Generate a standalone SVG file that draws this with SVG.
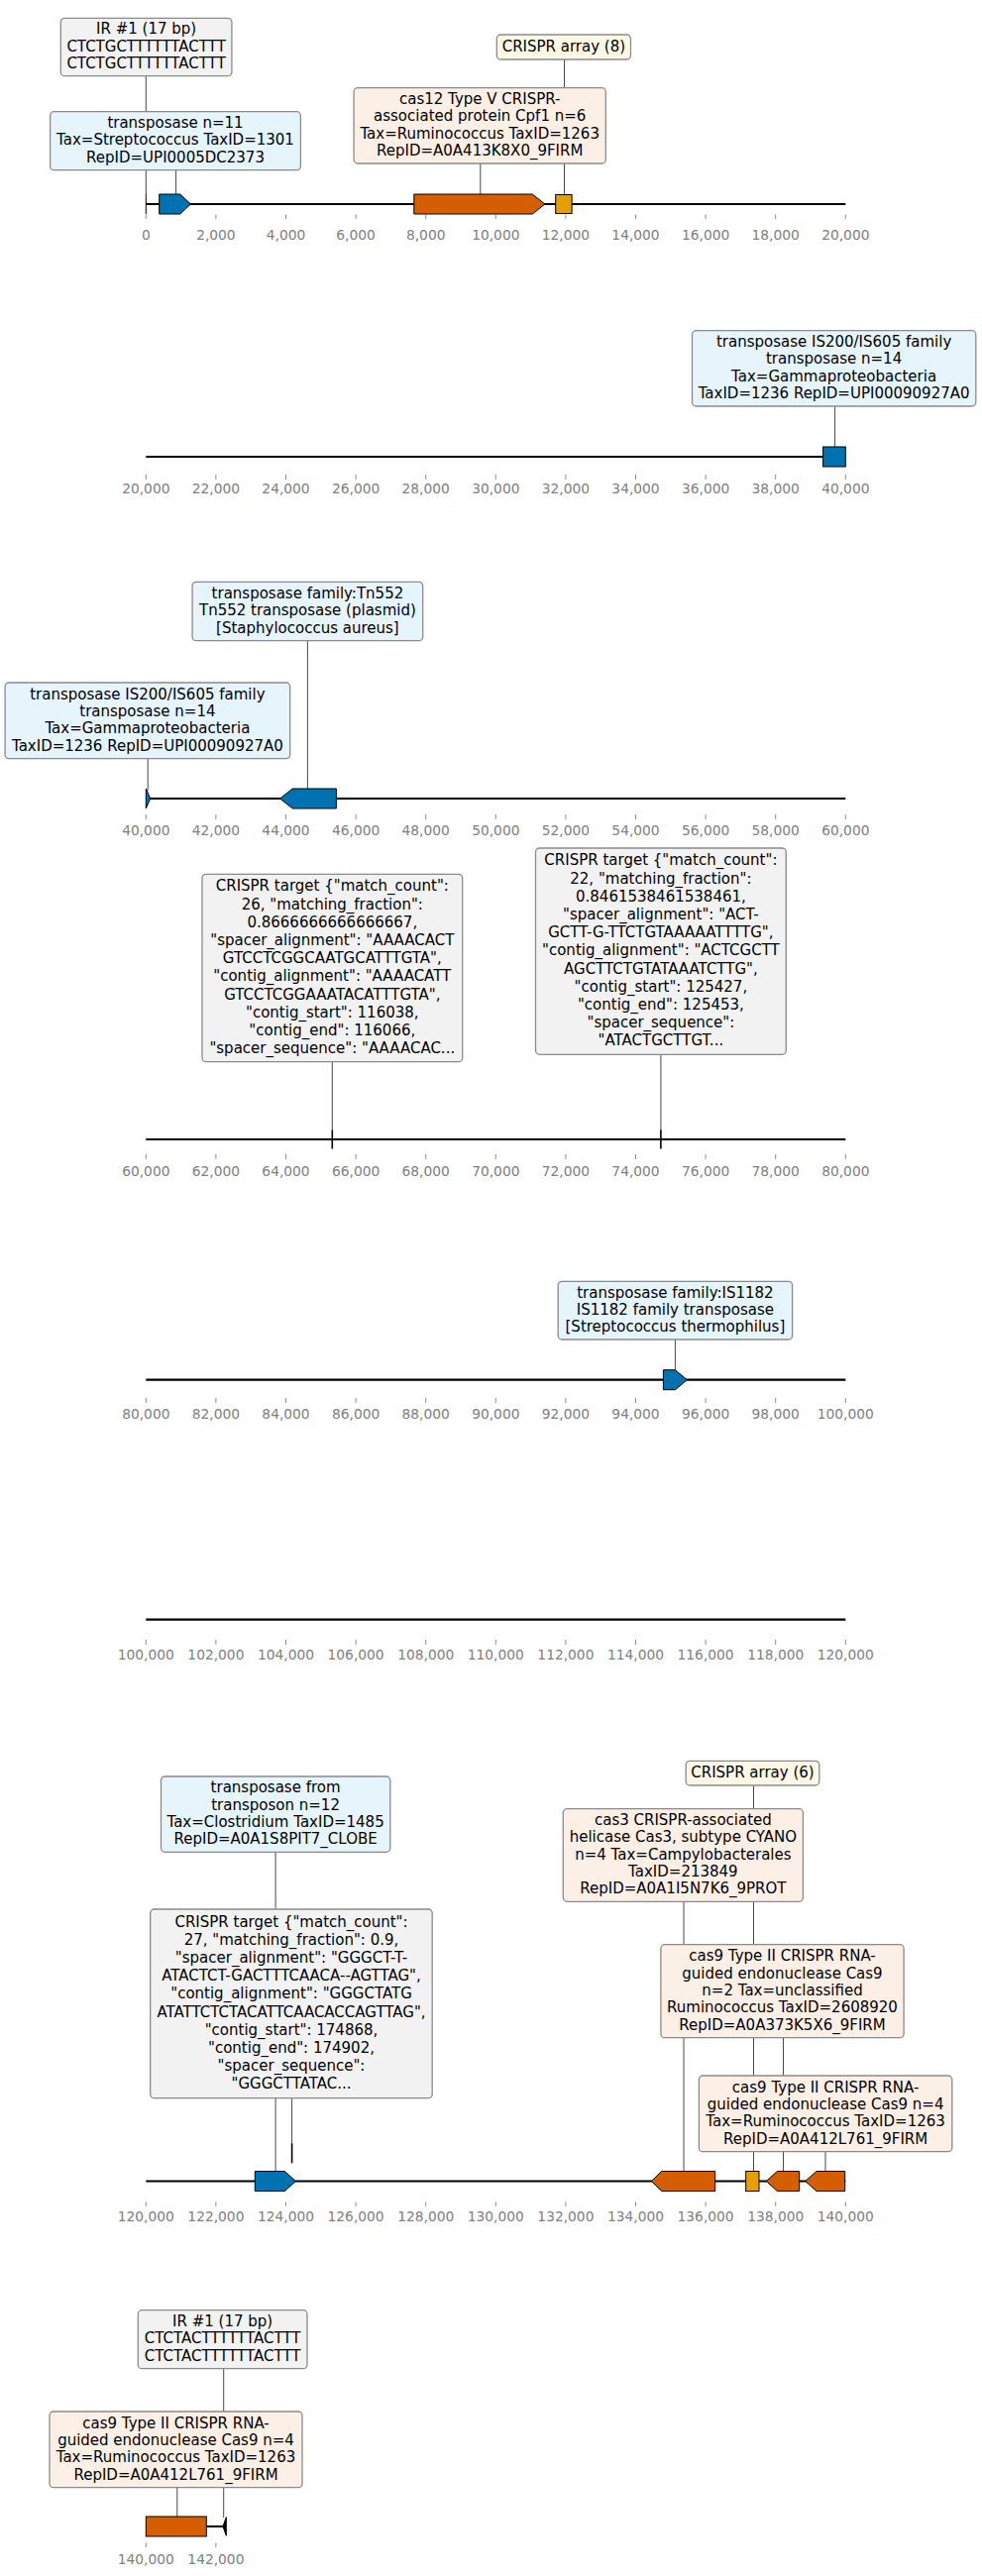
<svg xmlns="http://www.w3.org/2000/svg" width="991" height="2600" viewBox="0 0 991 2600">
<style>
  .bg{fill:#ffffff}
  .track{stroke:#000;stroke-width:2.2;fill:none}
  .tk{stroke:#8c8c8c;stroke-width:1}
  .tl{font-family:"DejaVu Sans",sans-serif;font-size:13.8px;fill:#808080;text-anchor:middle}
  .conn{stroke:#333;stroke-width:0.9;fill:none}
  .box{stroke:#8a8a8a;stroke-width:1.3}
  .bx-gray{fill:#f2f2f2}
  .bx-blue{fill:#e6f4fc}
  .bx-orange{fill:#fcefe6}
  .bx-yellow{fill:#fdf8e6}
  .lbl{font-family:"DejaVu Sans",sans-serif;font-size:15px;fill:#000;text-anchor:middle}
  .g-blue{fill:#0072b2;stroke:#000;stroke-width:1}
  .g-orange{fill:#d55e00;stroke:#000;stroke-width:1}
  .g-yellow{fill:#e69f00;stroke:#000;stroke-width:1}
  .mark{stroke:#000;stroke-width:1.6}
</style>
<rect class="bg" x="0" y="0" width="991" height="2600"/>

<!-- sequence tracks and coordinate axes -->
<g id="axes">
  <line class="track" x1="147.3" y1="206" x2="853.3" y2="206"/>
  <line class="track" x1="147.3" y1="461" x2="853.3" y2="461"/>
  <line class="track" x1="147.3" y1="806" x2="853.3" y2="806"/>
  <line class="track" x1="147.3" y1="1150" x2="853.3" y2="1150"/>
  <line class="track" x1="147.3" y1="1392.7" x2="853.3" y2="1392.7"/>
  <line class="track" x1="147.3" y1="1634.7" x2="853.3" y2="1634.7"/>
  <line class="track" x1="147.3" y1="2201.5" x2="853.3" y2="2201.5"/>
  <line class="track" x1="147.3" y1="2550" x2="228.3" y2="2550"/>

  <!-- 0 - 20,000 -->
  <g>
    <path class="tk" d="M147.3 216.5v4.5M217.9 216.5v4.5M288.5 216.5v4.5M359.1 216.5v4.5M429.7 216.5v4.5M500.3 216.5v4.5M570.9 216.5v4.5M641.5 216.5v4.5M712.1 216.5v4.5M782.7 216.5v4.5M853.3 216.5v4.5"/>
    <text class="tl" x="147.3" y="241.8">0</text>
    <text class="tl" x="217.9" y="241.8">2,000</text>
    <text class="tl" x="288.5" y="241.8">4,000</text>
    <text class="tl" x="359.1" y="241.8">6,000</text>
    <text class="tl" x="429.7" y="241.8">8,000</text>
    <text class="tl" x="500.3" y="241.8">10,000</text>
    <text class="tl" x="570.9" y="241.8">12,000</text>
    <text class="tl" x="641.5" y="241.8">14,000</text>
    <text class="tl" x="712.1" y="241.8">16,000</text>
    <text class="tl" x="782.7" y="241.8">18,000</text>
    <text class="tl" x="853.3" y="241.8">20,000</text>
  </g>
  <!-- 20,000 - 40,000 -->
  <g>
    <path class="tk" d="M147.3 479v5M217.9 479v5M288.5 479v5M359.1 479v5M429.7 479v5M500.3 479v5M570.9 479v5M641.5 479v5M712.1 479v5M782.7 479v5M853.3 479v5"/>
    <text class="tl" x="147.3" y="498">20,000</text>
    <text class="tl" x="217.9" y="498">22,000</text>
    <text class="tl" x="288.5" y="498">24,000</text>
    <text class="tl" x="359.1" y="498">26,000</text>
    <text class="tl" x="429.7" y="498">28,000</text>
    <text class="tl" x="500.3" y="498">30,000</text>
    <text class="tl" x="570.9" y="498">32,000</text>
    <text class="tl" x="641.5" y="498">34,000</text>
    <text class="tl" x="712.1" y="498">36,000</text>
    <text class="tl" x="782.7" y="498">38,000</text>
    <text class="tl" x="853.3" y="498">40,000</text>
  </g>
  <!-- 40,000 - 60,000 -->
  <g>
    <path class="tk" d="M147.3 822v5M217.9 822v5M288.5 822v5M359.1 822v5M429.7 822v5M500.3 822v5M570.9 822v5M641.5 822v5M712.1 822v5M782.7 822v5M853.3 822v5"/>
    <text class="tl" x="147.3" y="842.5">40,000</text>
    <text class="tl" x="217.9" y="842.5">42,000</text>
    <text class="tl" x="288.5" y="842.5">44,000</text>
    <text class="tl" x="359.1" y="842.5">46,000</text>
    <text class="tl" x="429.7" y="842.5">48,000</text>
    <text class="tl" x="500.3" y="842.5">50,000</text>
    <text class="tl" x="570.9" y="842.5">52,000</text>
    <text class="tl" x="641.5" y="842.5">54,000</text>
    <text class="tl" x="712.1" y="842.5">56,000</text>
    <text class="tl" x="782.7" y="842.5">58,000</text>
    <text class="tl" x="853.3" y="842.5">60,000</text>
  </g>
  <!-- 60,000 - 80,000 -->
  <g>
    <path class="tk" d="M147.3 1165v5M217.9 1165v5M288.5 1165v5M359.1 1165v5M429.7 1165v5M500.3 1165v5M570.9 1165v5M641.5 1165v5M712.1 1165v5M782.7 1165v5M853.3 1165v5"/>
    <text class="tl" x="147.3" y="1186.5">60,000</text>
    <text class="tl" x="217.9" y="1186.5">62,000</text>
    <text class="tl" x="288.5" y="1186.5">64,000</text>
    <text class="tl" x="359.1" y="1186.5">66,000</text>
    <text class="tl" x="429.7" y="1186.5">68,000</text>
    <text class="tl" x="500.3" y="1186.5">70,000</text>
    <text class="tl" x="570.9" y="1186.5">72,000</text>
    <text class="tl" x="641.5" y="1186.5">74,000</text>
    <text class="tl" x="712.1" y="1186.5">76,000</text>
    <text class="tl" x="782.7" y="1186.5">78,000</text>
    <text class="tl" x="853.3" y="1186.5">80,000</text>
  </g>
  <!-- 80,000 - 100,000 -->
  <g>
    <path class="tk" d="M147.3 1411v5M217.9 1411v5M288.5 1411v5M359.1 1411v5M429.7 1411v5M500.3 1411v5M570.9 1411v5M641.5 1411v5M712.1 1411v5M782.7 1411v5M853.3 1411v5"/>
    <text class="tl" x="147.3" y="1431.5">80,000</text>
    <text class="tl" x="217.9" y="1431.5">82,000</text>
    <text class="tl" x="288.5" y="1431.5">84,000</text>
    <text class="tl" x="359.1" y="1431.5">86,000</text>
    <text class="tl" x="429.7" y="1431.5">88,000</text>
    <text class="tl" x="500.3" y="1431.5">90,000</text>
    <text class="tl" x="570.9" y="1431.5">92,000</text>
    <text class="tl" x="641.5" y="1431.5">94,000</text>
    <text class="tl" x="712.1" y="1431.5">96,000</text>
    <text class="tl" x="782.7" y="1431.5">98,000</text>
    <text class="tl" x="853.3" y="1431.5">100,000</text>
  </g>
  <!-- 100,000 - 120,000 -->
  <g>
    <path class="tk" d="M147.3 1655v5M217.9 1655v5M288.5 1655v5M359.1 1655v5M429.7 1655v5M500.3 1655v5M570.9 1655v5M641.5 1655v5M712.1 1655v5M782.7 1655v5M853.3 1655v5"/>
    <text class="tl" x="147.3" y="1674.8">100,000</text>
    <text class="tl" x="217.9" y="1674.8">102,000</text>
    <text class="tl" x="288.5" y="1674.8">104,000</text>
    <text class="tl" x="359.1" y="1674.8">106,000</text>
    <text class="tl" x="429.7" y="1674.8">108,000</text>
    <text class="tl" x="500.3" y="1674.8">110,000</text>
    <text class="tl" x="570.9" y="1674.8">112,000</text>
    <text class="tl" x="641.5" y="1674.8">114,000</text>
    <text class="tl" x="712.1" y="1674.8">116,000</text>
    <text class="tl" x="782.7" y="1674.8">118,000</text>
    <text class="tl" x="853.3" y="1674.8">120,000</text>
  </g>
  <!-- 120,000 - 140,000 -->
  <g>
    <path class="tk" d="M147.3 2222.5v4.5M217.9 2222.5v4.5M288.5 2222.5v4.5M359.1 2222.5v4.5M429.7 2222.5v4.5M500.3 2222.5v4.5M570.9 2222.5v4.5M641.5 2222.5v4.5M712.1 2222.5v4.5M782.7 2222.5v4.5M853.3 2222.5v4.5"/>
    <text class="tl" x="147.3" y="2241.6">120,000</text>
    <text class="tl" x="217.9" y="2241.6">122,000</text>
    <text class="tl" x="288.5" y="2241.6">124,000</text>
    <text class="tl" x="359.1" y="2241.6">126,000</text>
    <text class="tl" x="429.7" y="2241.6">128,000</text>
    <text class="tl" x="500.3" y="2241.6">130,000</text>
    <text class="tl" x="570.9" y="2241.6">132,000</text>
    <text class="tl" x="641.5" y="2241.6">134,000</text>
    <text class="tl" x="712.1" y="2241.6">136,000</text>
    <text class="tl" x="782.7" y="2241.6">138,000</text>
    <text class="tl" x="853.3" y="2241.6">140,000</text>
  </g>
  <!-- 140,000 onwards -->
  <g>
    <path class="tk" d="M147.3 2566.5v4.5M217.9 2566.5v4.5"/>
    <text class="tl" x="147.3" y="2587.5">140,000</text>
    <text class="tl" x="217.9" y="2587.5">142,000</text>
  </g>
</g>

<!-- leader lines from labels to features -->
<g id="connectors">
  <path class="conn" d="M147.3 76.7V196"/>
  <path class="conn" d="M177.6 171.7V196"/>
  <path class="conn" d="M484.8 165V196"/>
  <path class="conn" d="M569.5 60V196"/>
  <path class="conn" d="M842.6 410V451"/>
  <path class="conn" d="M310.4 646.7V796"/>
  <path class="conn" d="M149.2 765.7V798"/>
  <path class="conn" d="M335.3 1071.7V1141"/>
  <path class="conn" d="M666.9 1064.3V1141"/>
  <path class="conn" d="M681.4 1352V1382.7"/>
  <path class="conn" d="M278.1 1869.3V2191.5"/>
  <path class="conn" d="M294.6 2117.7V2163.5"/>
  <path class="conn" d="M690 1919.3V2191.5"/>
  <path class="conn" d="M760.5 1802V2191.5"/>
  <path class="conn" d="M790.5 2056.7V2191.5"/>
  <path class="conn" d="M833 2171.7V2191.5"/>
  <path class="conn" d="M225.7 2390.7V2541"/>
  <path class="conn" d="M178.8 2510.7V2540"/>
</g>

<!-- 0 - 20,000 -->
<g id="ir1-a">
  <line x1="147.3" y1="196" x2="147.3" y2="216" stroke="#000" stroke-width="1"/>
  <rect class="box bx-gray" x="61.3" y="18.3" width="172.6" height="58.4" rx="4"/>
  <text class="lbl"><tspan x="147.6" y="34.4">IR #1 (17 bp)</tspan><tspan x="147.6" dy="17.3">CTCTGCTTTTTTACTTT</tspan><tspan x="147.6" dy="17.3">CTCTGCTTTTTTACTTT</tspan></text>
</g>
<g id="transposase-1">
  <path class="g-blue" d="M160.7 196H181.7L192.5 206L181.7 216H160.7Z"/>
  <rect class="box bx-blue" x="50.6" y="112.7" width="252.8" height="59" rx="4"/>
  <text class="lbl"><tspan x="177" y="129.1">transposase n=11</tspan><tspan x="177" dy="17.3">Tax=Streptococcus TaxID=1301</tspan><tspan x="177" dy="17.3">RepID=UPI0005DC2373</tspan></text>
</g>
<g id="cas12">
  <path class="g-orange" d="M417.8 196H537.3L549.9 206L537.3 216H417.8Z"/>
  <rect class="box bx-orange" x="357.1" y="88.7" width="254.2" height="76.3" rx="4"/>
  <text class="lbl"><tspan x="484.2" y="105.1">cas12 Type V CRISPR-</tspan><tspan x="484.2" dy="17.3">associated protein Cpf1 n=6</tspan><tspan x="484.2" dy="17.3">Tax=Ruminococcus TaxID=1263</tspan><tspan x="484.2" dy="17.3">RepID=A0A413K8X0_9FIRM</tspan></text>
</g>
<g id="crispr-array-8">
  <rect class="g-yellow" x="560.7" y="196.5" width="16.4" height="19"/>
  <rect class="box bx-yellow" x="501.3" y="35" width="135.2" height="25" rx="4"/>
  <text class="lbl" x="568.9" y="52">CRISPR array (8)</text>
</g>

<!-- 20,000 - 40,000 -->
<g id="is200-a">
  <rect class="g-blue" x="830.6" y="451" width="22.7" height="20"/>
  <rect class="box bx-blue" x="698.5" y="333.7" width="286.3" height="76.3" rx="4"/>
  <text class="lbl"><tspan x="841.6" y="350.1">transposase IS200/IS605 family</tspan><tspan x="841.6" dy="17.3">transposase n=14</tspan><tspan x="841.6" dy="17.3">Tax=Gammaproteobacteria</tspan><tspan x="841.6" dy="17.3">TaxID=1236 RepID=UPI00090927A0</tspan></text>
</g>

<!-- 40,000 - 60,000 -->
<g id="is200-b">
  <path class="g-blue" d="M147.3 796L151.7 806L147.3 816Z"/>
  <rect class="box bx-blue" x="5.1" y="689" width="287.6" height="76.7" rx="4"/>
  <text class="lbl"><tspan x="148.9" y="705.6">transposase IS200/IS605 family</tspan><tspan x="148.9" dy="17.3">transposase n=14</tspan><tspan x="148.9" dy="17.3">Tax=Gammaproteobacteria</tspan><tspan x="148.9" dy="17.3">TaxID=1236 RepID=UPI00090927A0</tspan></text>
</g>
<g id="tn552">
  <path class="g-blue" d="M282.6 806L295.2 796H339.4V816H295.2Z"/>
  <rect class="box bx-blue" x="194.1" y="587.3" width="232.6" height="59.4" rx="4"/>
  <text class="lbl"><tspan x="310.4" y="603.9">transposase family:Tn552</tspan><tspan x="310.4" dy="17.3">Tn552 transposase (plasmid)</tspan><tspan x="310.4" dy="17.3">[Staphylococcus aureus]</tspan></text>
</g>

<!-- 60,000 - 80,000 -->
<g id="crispr-target-1">
  <line class="mark" x1="335.3" y1="1140.5" x2="335.3" y2="1159.5"/>
  <rect class="box bx-gray" x="204" y="882.3" width="262.7" height="189.4" rx="4"/>
  <text class="lbl"><tspan x="335.3" y="899.3">CRISPR target {"match_count":</tspan><tspan x="335.3" dy="18.2">26, "matching_fraction":</tspan><tspan x="335.3" dy="18.2">0.8666666666666667,</tspan><tspan x="335.3" dy="18.2">"spacer_alignment": "AAAACACT</tspan><tspan x="335.3" dy="18.2">GTCCTCGGCAATGCATTTGTA",</tspan><tspan x="335.3" dy="18.2">"contig_alignment": "AAAACATT</tspan><tspan x="335.3" dy="18.2">GTCCTCGGAAATACATTTGTA",</tspan><tspan x="335.3" dy="18.2">"contig_start": 116038,</tspan><tspan x="335.3" dy="18.2">"contig_end": 116066,</tspan><tspan x="335.3" dy="18.2">"spacer_sequence": "AAAACAC...</tspan></text>
</g>
<g id="crispr-target-2">
  <line class="mark" x1="666.9" y1="1140.5" x2="666.9" y2="1159.5"/>
  <rect class="box bx-gray" x="540.5" y="856" width="252.8" height="208.3" rx="4"/>
  <text class="lbl"><tspan x="666.9" y="873.4">CRISPR target {"match_count":</tspan><tspan x="666.9" dy="18.2">22, "matching_fraction":</tspan><tspan x="666.9" dy="18.2">0.8461538461538461,</tspan><tspan x="666.9" dy="18.2">"spacer_alignment": "ACT-</tspan><tspan x="666.9" dy="18.2">GCTT-G-TTCTGTAAAAATTTTG",</tspan><tspan x="666.9" dy="18.2">"contig_alignment": "ACTCGCTT</tspan><tspan x="666.9" dy="18.2">AGCTTCTGTATAAATCTTG",</tspan><tspan x="666.9" dy="18.2">"contig_start": 125427,</tspan><tspan x="666.9" dy="18.2">"contig_end": 125453,</tspan><tspan x="666.9" dy="18.2">"spacer_sequence":</tspan><tspan x="666.9" dy="18.2">"ATACTGCTTGT...</tspan></text>
</g>

<!-- 80,000 - 100,000 -->
<g id="is1182">
  <path class="g-blue" d="M669.4 1382.7H681.4L693.4 1392.7L681.4 1402.7H669.4Z"/>
  <rect class="box bx-blue" x="563.2" y="1293.3" width="236.4" height="58.7" rx="4"/>
  <text class="lbl"><tspan x="681.4" y="1309.6">transposase family:IS1182</tspan><tspan x="681.4" dy="17.3">IS1182 family transposase</tspan><tspan x="681.4" dy="17.3">[Streptococcus thermophilus]</tspan></text>
</g>

<!-- 120,000 - 140,000 -->
<g id="transposase-clostridium">
  <path class="g-blue" d="M257.3 2191.5H287.4L298.4 2201.5L287.4 2211.5H257.3Z"/>
  <rect class="box bx-blue" x="162.5" y="1793" width="231.3" height="76.3" rx="4"/>
  <text class="lbl"><tspan x="278.1" y="1809.4">transposase from</tspan><tspan x="278.1" dy="17.3">transposon n=12</tspan><tspan x="278.1" dy="17.3">Tax=Clostridium TaxID=1485</tspan><tspan x="278.1" dy="17.3">RepID=A0A1S8PIT7_CLOBE</tspan></text>
</g>
<g id="crispr-target-3">
  <line class="mark" x1="294.6" y1="2163.3" x2="294.6" y2="2183.3"/>
  <rect class="box bx-gray" x="151.7" y="1927" width="284.5" height="190.7" rx="4"/>
  <text class="lbl"><tspan x="294" y="1944.6">CRISPR target {"match_count":</tspan><tspan x="294" dy="18.2">27, "matching_fraction": 0.9,</tspan><tspan x="294" dy="18.2">"spacer_alignment": "GGGCT-T-</tspan><tspan x="294" dy="18.2">ATACTCT-GACTTTCAACA--AGTTAG",</tspan><tspan x="294" dy="18.2">"contig_alignment": "GGGCTATG</tspan><tspan x="294" dy="18.2">ATATTCTCTACATTCAACACCAGTTAG",</tspan><tspan x="294" dy="18.2">"contig_start": 174868,</tspan><tspan x="294" dy="18.2">"contig_end": 174902,</tspan><tspan x="294" dy="18.2">"spacer_sequence":</tspan><tspan x="294" dy="18.2">"GGGCTTATAC...</tspan></text>
</g>
<g id="cas3">
  <path class="g-orange" d="M657.3 2201.5L667.7 2191.5H721.7V2211.5H667.7Z"/>
  <rect class="box bx-orange" x="568.3" y="1825.7" width="242.1" height="93.6" rx="4"/>
  <text class="lbl"><tspan x="689.4" y="1842.1">cas3 CRISPR-associated</tspan><tspan x="689.4" dy="17.3">helicase Cas3, subtype CYANO</tspan><tspan x="689.4" dy="17.3">n=4 Tax=Campylobacterales</tspan><tspan x="689.4" dy="17.3">TaxID=213849</tspan><tspan x="689.4" dy="17.3">RepID=A0A1I5N7K6_9PROT</tspan></text>
</g>
<g id="crispr-array-6">
  <rect class="g-yellow" x="752.7" y="2191.5" width="13.3" height="20"/>
  <rect class="box bx-yellow" x="692.2" y="1777.3" width="134.6" height="24.7" rx="4"/>
  <text class="lbl" x="759.5" y="1794.2">CRISPR array (6)</text>
</g>
<g id="cas9-unclassified">
  <path class="g-orange" d="M773.3 2201.5L784.3 2191.5H806.7V2211.5H784.3Z"/>
  <rect class="box bx-orange" x="666.9" y="1962.7" width="245.2" height="94" rx="4"/>
  <text class="lbl"><tspan x="789.5" y="1979.3">cas9 Type II CRISPR RNA-</tspan><tspan x="789.5" dy="17.3">guided endonuclease Cas9</tspan><tspan x="789.5" dy="17.3">n=2 Tax=unclassified</tspan><tspan x="789.5" dy="17.3">Ruminococcus TaxID=2608920</tspan><tspan x="789.5" dy="17.3">RepID=A0A373K5X6_9FIRM</tspan></text>
</g>
<g id="cas9-ruminococcus-a">
  <path class="g-orange" d="M812.7 2201.5L824 2191.5H852.7V2211.5H824Z"/>
  <rect class="box bx-orange" x="705.4" y="2095" width="255.4" height="76.7" rx="4"/>
  <text class="lbl"><tspan x="833.1" y="2111.6">cas9 Type II CRISPR RNA-</tspan><tspan x="833.1" dy="17.3">guided endonuclease Cas9 n=4</tspan><tspan x="833.1" dy="17.3">Tax=Ruminococcus TaxID=1263</tspan><tspan x="833.1" dy="17.3">RepID=A0A412L761_9FIRM</tspan></text>
</g>

<!-- 140,000 onwards -->
<g id="cas9-ruminococcus-b">
  <rect class="g-orange" x="147.3" y="2540" width="61" height="20"/>
  <rect class="box bx-orange" x="50" y="2434" width="255" height="76.7" rx="4"/>
  <text class="lbl"><tspan x="177.5" y="2450.6">cas9 Type II CRISPR RNA-</tspan><tspan x="177.5" dy="17.3">guided endonuclease Cas9 n=4</tspan><tspan x="177.5" dy="17.3">Tax=Ruminococcus TaxID=1263</tspan><tspan x="177.5" dy="17.3">RepID=A0A412L761_9FIRM</tspan></text>
</g>
<g id="ir1-b">
  <path d="M228.3 2540.7L225 2550L228.3 2559.3Z" fill="#000" stroke="#000" stroke-width="1"/>
  <rect class="box bx-gray" x="139.3" y="2331.7" width="170.7" height="59" rx="4"/>
  <text class="lbl"><tspan x="224.6" y="2348.1">IR #1 (17 bp)</tspan><tspan x="224.6" dy="17.3">CTCTACTTTTTTACTTT</tspan><tspan x="224.6" dy="17.3">CTCTACTTTTTTACTTT</tspan></text>
</g>
</svg>
